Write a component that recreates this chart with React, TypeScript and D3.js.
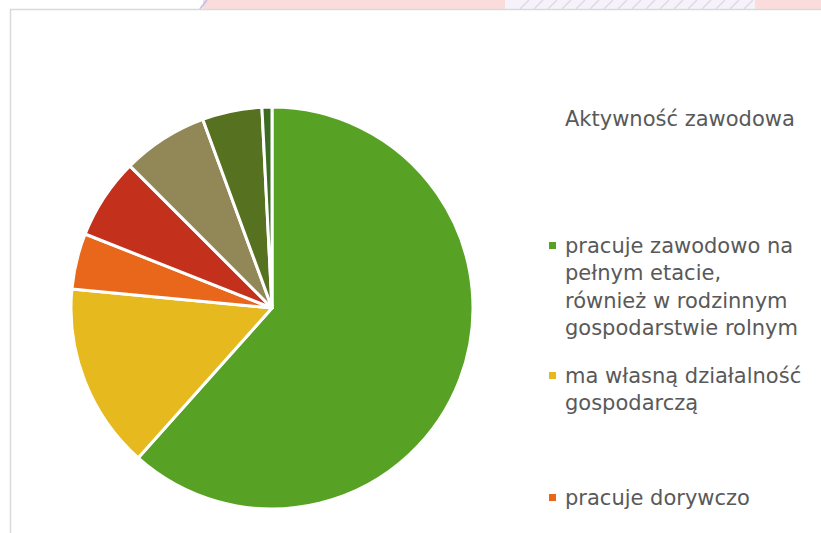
import React from 'react';
import * as d3 from 'd3';

// shares of each slice, clockwise from 12 o'clock (percent)
const categories = [
  'pracuje zawodowo na pełnym etacie, również w rodzinnym gospodarstwie rolnym',
  'ma własną działalność gospodarczą',
  'pracuje dorywczo',
  'nie pracuje',
  'emeryt / rencista',
  'uczy się',
  'inne',
];
const values = [61.6, 14.9, 4.5, 6.5, 6.9, 4.8, 0.8];
const colors = ['#57A225', '#E6B91F', '#E8671B', '#C3301B', '#918757', '#56711F', '#3C6B22'];

// legend is clipped by the frame, only the first three entries fit
const legendLines = [
  ['pracuje zawodowo na', 'pełnym etacie,', 'również w rodzinnym', 'gospodarstwie rolnym'],
  ['ma własną działalność', 'gospodarczą'],
  ['pracuje dorywczo'],
];
const legendTop = [245, 375, 497];
const title = 'Aktywność zawodowa';

const W = 821;
const H = 533;

export default function App() {
  const cx = 272;
  const cy = 308;
  const r = 201;

  const pie = d3.pie<number>().sort(null).value((d) => d);
  const arc = d3.arc<d3.PieArcDatum<number>>().innerRadius(0).outerRadius(r);
  const slices = pie(values);

  const font = '"DejaVu Sans", Verdana, sans-serif';
  const lineH = 27.5;

  return (
    <svg width={W} height={H} style={{ position: 'absolute', left: 0, top: 0 }}>
      {/* faint slide background peeking above the frame */}
      <rect x={0} y={0} width={W} height={9} fill="#ffffff" />
      <rect x={203} y={0} width={W - 203} height={9} fill="#FADCDC" />
      <rect x={505} y={0} width={250} height={9} fill="#F5F3F9" />
      {d3.range(520, 750, 14).map((x) => (
        <line key={x} x1={x} y1={9} x2={x + 9} y2={0} stroke="#DDD9EA" strokeWidth={1.5} />
      ))}
      <line x1={200} y1={9} x2={207} y2={0} stroke="#C9C3E3" strokeWidth={2} />

      {/* chart frame */}
      <rect x={10.5} y={9.5} width={W} height={H} fill="#ffffff" stroke="#D9D9D9" strokeWidth={1.5} />

      <g transform={`translate(${cx},${cy})`}>
        {slices.map((s, i) => (
          <path key={i} d={arc(s) || ''} fill={colors[i]} stroke="#ffffff" strokeWidth={3} strokeLinejoin="round" />
        ))}
      </g>

      <text x={565} y={126} fontFamily={font} fontSize={21} fill="#595959">
        {title}
      </text>

      {legendLines.map((lines, i) => (
        <g key={i}>
          <rect x={549} y={legendTop[i] - 3} width={7} height={7} fill={colors[i]} />
          {lines.map((t, j) => (
            <text
              key={j}
              x={565}
              y={legendTop[i] + j * lineH + 7.5}
              fontFamily={font}
              fontSize={21}
              fill="#595959"
            >
              {t}
            </text>
          ))}
        </g>
      ))}
    </svg>
  );
}
